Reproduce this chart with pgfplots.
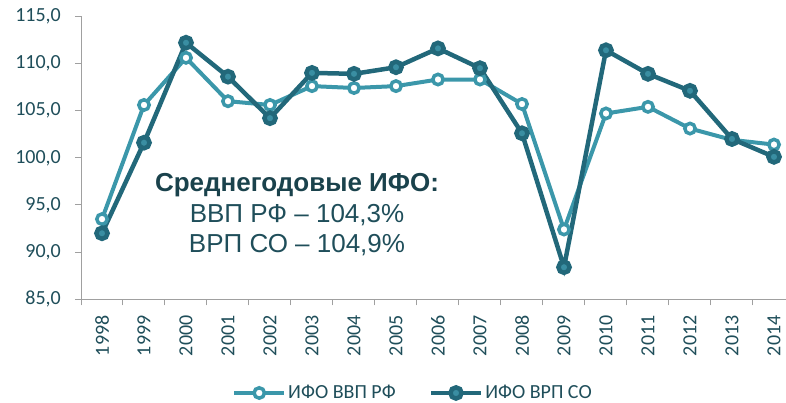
\documentclass[border=0pt]{standalone}
\usepackage{pgfplots}
\pgfplotsset{compat=1.18}
\usepackage{pgfplotstable}
\usepackage{fontspec}
\setmainfont{Carlito}
\newfontfamily\arialf{Liberation Sans}

\definecolor{lightteal}{RGB}{59,151,170}
\definecolor{darkteal}{RGB}{34,104,122}
\definecolor{darkcenter}{RGB}{58,142,162}
\definecolor{txt}{RGB}{31,78,90}
\definecolor{axgray}{RGB}{160,160,160}

% x: 0 = 1998 ... 16 = 2014
\pgfplotstableread{
x   rf     so
0   93.5   92.0
1   105.6  101.6
2   110.6  112.2
3   106.0  108.6
4   105.6  104.2
5   107.6  109.0
6   107.4  108.9
7   107.6  109.6
8   108.3  111.6
9   108.3  109.5
10  105.7  102.6
11  92.4   88.4
12  104.7  111.4
13  105.4  108.9
14  103.1  107.1
15  101.9  102.0
16  101.4  100.1
}\ifo

\begin{document}
\begin{tikzpicture}
\begin{axis}[
    at={(81bp,103.7bp)}, anchor=south west,
    scale only axis,
    width=705bp, height=283bp,
    xmin=-0.5, xmax=16.286,
    ymin=85, ymax=115,
    axis lines=left,
    axis line style={-, draw=axgray, line width=1bp},
    tick align=outside,
    major tick length=6bp,
    minor tick length=6bp,
    tick style={draw=axgray, line width=1bp},
    major x tick style={draw=none},
    xtick={0,...,16},
    minor xtick={-0.5,0.5,...,15.5},
    xticklabels={1998,1999,2000,2001,2002,2003,2004,2005,2006,2007,2008,2009,2010,2011,2012,2013,2014},
    xticklabel style={rotate=90, anchor=east, inner sep=0pt, xshift=-10bp,
        font=\fontsize{20bp}{24bp}\selectfont, text=txt},
    ytick={85,90,...,115},
    yticklabel style={inner sep=0pt, xshift=-14bp,
        font=\fontsize{20bp}{24bp}\selectfont, text=txt},
    /pgf/number format/.cd, fixed, fixed zerofill, precision=1, use comma,
        assume math mode=true,
    /pgfplots/.cd,
    clip=false,
    legend columns=2,
    legend style={at={(0.471,-0.331)}, anchor=center, draw=none, fill=none,
        font=\fontsize{20bp}{24bp}\selectfont, text=txt,
        /tikz/every even column/.append style={column sep=31bp},
        inner sep=0pt},
    legend image code/.code={
        \draw[mark repeat=2, mark phase=2] plot coordinates {(0bp,0bp) (25bp,0bp) (50bp,0bp)};
    },
]
\addplot[lightteal, line width=4bp, mark=*, mark size=5.2bp,
    mark options={fill=white, draw=lightteal, line width=3.5bp}]
    table[x=x, y=rf] {\ifo};
\addlegendentry{ИФО ВВП РФ}
\addplot[darkteal, line width=4.5bp, mark=*, mark size=5.6bp,
    mark options={fill=darkcenter, draw=darkteal, line width=4.5bp}]
    table[x=x, y=so] {\ifo};
\addlegendentry{ИФО ВРП СО}

\node[anchor=base, text=txt!85!black, font=\arialf\bfseries\fontsize{26bp}{30bp}\selectfont]
    at (axis cs:4.643,96.43) {Среднегодовые ИФО:};
\node[anchor=base, text=txt, font=\arialf\fontsize{26bp}{30bp}\selectfont]
    at (axis cs:4.643,93.14) {ВВП РФ – 104,3\%};
\node[anchor=base, text=txt, font=\arialf\fontsize{26bp}{30bp}\selectfont]
    at (axis cs:4.643,89.96) {ВРП СО – 104,9\%};
\end{axis}
\pgfresetboundingbox
\path (0bp,0bp) rectangle (786bp,403bp);
\end{tikzpicture}
\end{document}
